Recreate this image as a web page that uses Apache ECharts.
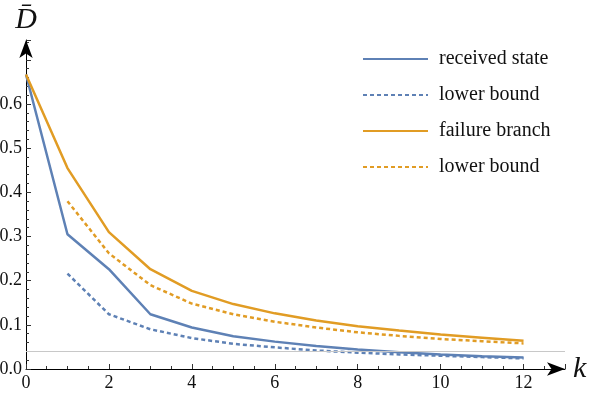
<!DOCTYPE html>
<html>
<head>
<meta charset="utf-8">
<script src="https://cdn.jsdelivr.net/npm/echarts@6/dist/echarts.min.js"></script>
<style>
  html, body { margin: 0; padding: 0; background: #fff; }
  #chart { width: 600px; height: 395px; }
</style>
</head>
<body>
<div id="chart"></div>
<script>
// k = 0..12 for the solid curves, k = 1..12 for the bounds
const kAll = [0, 1, 2, 3, 4, 5, 6, 7, 8, 9, 10, 11, 12];
const kBound = [1, 2, 3, 4, 5, 6, 7, 8, 9, 10, 11, 12];
const received = [0.667, 0.305, 0.226, 0.124, 0.094, 0.074, 0.062, 0.052, 0.044, 0.038, 0.033, 0.029, 0.026];
const receivedBound = [0.216, 0.124, 0.090, 0.070, 0.057, 0.049, 0.042, 0.037, 0.033, 0.030, 0.027, 0.024];
const failure = [0.667, 0.455, 0.310, 0.226, 0.177, 0.147, 0.126, 0.110, 0.097, 0.087, 0.078, 0.071, 0.064];
const failureBound = [0.380, 0.262, 0.190, 0.148, 0.124, 0.107, 0.094, 0.083, 0.075, 0.068, 0.063, 0.058];
const baseline = 0.036;

const blue = '#5E81B5';
const orange = '#E19C24';
const serif = 'Liberation Serif';

function pairs(xs, ys) {
  return xs.map((x, i) => [x, ys[i]]);
}

let myChart = echarts.init(document.getElementById('chart'));
myChart.setOption({
  animation: false,
  grid: { left: 26, right: 35, top: 40, bottom: 26, outerBoundsMode: 'none', containLabel: false },
  legend: {
    orient: 'vertical',
    left: 362,
    top: 49,
    padding: 0,
    itemWidth: 65,
    itemHeight: 14,
    itemGap: 16,
    itemStyle: { opacity: 0 },
    textStyle: { fontFamily: serif, fontSize: 20, lineHeight: 20, color: '#111', padding: [0, 0, 0, 6] },
    data: ['received state', 'lower bound', 'failure branch', 'lower bound ']
  },
  xAxis: {
    type: 'value',
    min: 0,
    max: 13,
    interval: 2,
    name: 'k',
    nameGap: 8,
    nameTextStyle: { fontFamily: serif, fontStyle: 'italic', fontSize: 30, color: '#111', verticalAlign: 'middle' },
    axisLine: { lineStyle: { color: '#000', width: 1 }, symbol: ['none', 'arrow'], symbolSize: [10, 18] },
    axisTick: { inside: true, length: 5, lineStyle: { color: '#333' } },
    minorTick: { show: true, splitNumber: 4, length: 3, lineStyle: { color: '#333' } },
    splitLine: { show: false },
    axisLabel: {
      fontFamily: serif, fontSize: 18, color: '#111', margin: 5,
      formatter: v => (v % 2 === 0 && v <= 12) ? String(v) : ''
    }
  },
  yAxis: {
    type: 'value',
    min: 0,
    max: 0.745,
    interval: 0.1,
    name: 'D\u0304',
    nameGap: 5,
    nameTextStyle: { fontFamily: serif, fontStyle: 'italic', fontSize: 30, color: '#111', align: 'center' },
    axisLine: { lineStyle: { color: '#000', width: 1 }, symbol: ['none', 'arrow'], symbolSize: [10, 18] },
    axisTick: { inside: true, length: 5, lineStyle: { color: '#333' } },
    minorTick: { show: true, splitNumber: 5, length: 3, lineStyle: { color: '#333' } },
    splitLine: { show: false },
    axisLabel: {
      fontFamily: serif, fontSize: 18, color: '#111', margin: 4,
      formatter: v => v <= 0.65 ? v.toFixed(1) : ''
    }
  },
  series: [
    {
      name: 'received state',
      type: 'line',
      symbol: 'none',
      data: pairs(kAll, received),
      lineStyle: { color: blue, width: 2.5 },
      itemStyle: { color: blue },
      z: 3,
      markLine: {
        silent: true,
        symbol: 'none',
        label: { show: false },
        lineStyle: { color: '#c8c8c8', width: 1.2, type: 'solid' },
        data: [{ yAxis: baseline }]
      }
    },
    {
      name: 'lower bound',
      type: 'line',
      symbol: 'none',
      data: pairs(kBound, receivedBound),
      lineStyle: { color: blue, width: 2.5, type: [4, 3] },
      itemStyle: { color: blue },
      z: 3
    },
    {
      name: 'failure branch',
      type: 'line',
      symbol: 'none',
      data: pairs(kAll, failure),
      lineStyle: { color: orange, width: 2.5 },
      itemStyle: { color: orange },
      z: 3
    },
    {
      name: 'lower bound ',
      type: 'line',
      symbol: 'none',
      data: pairs(kBound, failureBound),
      lineStyle: { color: orange, width: 2.5, type: [4, 3] },
      itemStyle: { color: orange },
      z: 3
    }
  ]
});
</script>
</body>
</html>
